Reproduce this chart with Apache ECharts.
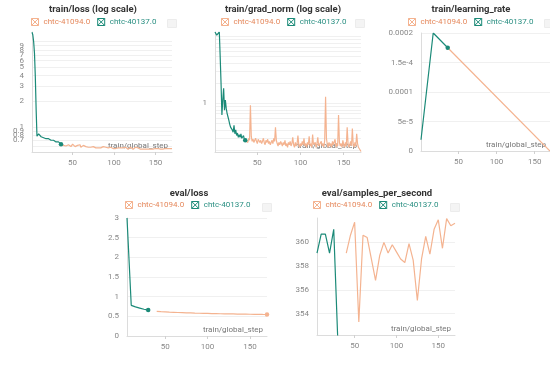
<!DOCTYPE html>
<html>
<head>
<meta charset="utf-8">
<script src="https://cdn.jsdelivr.net/npm/echarts@6/dist/echarts.min.js"></script>
<style>
  html, body { margin: 0; padding: 0; background: #fff; }
  #main { width: 550px; height: 372px; }
</style>
</head>
<body>
<div id="main"></div>
<script>
// runs: orange = resumed run, teal = first run
const runs = ['chtc-41094.0', 'chtc-40137.0'];

// train steps
const greenTrainStart = 1;
const orangeTrainStart = 36;

// train/loss
const lossGreen = [12.9, 12.0, 10.0, 7.3, 3.9, 1.6, 0.78, 0.81, 0.83, 0.79,
  0.80, 0.77, 0.78, 0.76, 0.75, 0.77, 0.74, 0.73, 0.75, 0.72,
  0.73, 0.71, 0.72, 0.70, 0.71, 0.69, 0.70, 0.68, 0.70, 0.67,
  0.68, 0.66, 0.67, 0.65, 0.64, 0.63];
const lossOrange = [
  0.63, 0.62, 0.64, 0.61, 0.63, 0.62, 0.60, 0.63, 0.61, 0.62,
  0.60, 0.62, 0.59, 0.61, 0.63, 0.60, 0.61, 0.59, 0.62, 0.60,
  0.61, 0.59, 0.60, 0.62, 0.58, 0.60, 0.59, 0.61, 0.58, 0.60,
  0.59, 0.57, 0.60, 0.58, 0.59, 0.61, 0.58, 0.59, 0.57, 0.59,
  0.58, 0.60, 0.57, 0.58, 0.59, 0.57, 0.58, 0.60, 0.57, 0.58,
  0.57, 0.59, 0.58, 0.56, 0.58, 0.57, 0.59, 0.57, 0.58, 0.56,
  0.58, 0.57, 0.59, 0.56, 0.57, 0.58, 0.56, 0.57, 0.59, 0.57,
  0.56, 0.58, 0.57, 0.56, 0.58, 0.57, 0.55, 0.57, 0.58, 0.56,
  0.57, 0.55, 0.57, 0.56, 0.58, 0.56, 0.57, 0.55, 0.57, 0.56,
  0.58, 0.56, 0.55, 0.57, 0.56, 0.58, 0.55, 0.57, 0.56, 0.55,
  0.57, 0.56, 0.55, 0.57, 0.58, 0.55, 0.56, 0.57, 0.55, 0.56,
  0.57, 0.55, 0.56, 0.54, 0.56, 0.57, 0.55, 0.56, 0.54, 0.57,
  0.55, 0.56, 0.54, 0.55, 0.57, 0.54, 0.56, 0.55, 0.54, 0.56,
  0.55, 0.54, 0.56, 0.55, 0.56];
const lossTicks = [0.6, 0.7, 0.8, 0.9, 1, 2, 3, 4, 5, 6, 7, 8, 9, 10];

// train/grad_norm
const gradGreen = [11.7, 11.0, 10.5, 11.2, 10.8, 11.7, 5.0, 2.0, 0.67, 1.12,
  1.68, 0.79, 1.12, 0.84, 0.71, 0.63, 0.56, 0.49, 0.44, 0.45,
  0.40, 0.37, 0.47, 0.35, 0.40, 0.33, 0.36, 0.31, 0.34, 0.31,
  0.35, 0.30, 0.31, 0.33, 0.29, 0.28];
const gradOrange = [
  0.28, 0.27, 0.29, 0.26, 0.30, 0.28, 0.94, 0.32, 0.27, 0.29,
  0.26, 0.28, 0.30, 0.27, 0.25, 0.29, 0.31, 0.26, 0.28, 0.25,
  0.27, 0.30, 0.26, 0.24, 0.28, 0.26, 0.29, 0.25, 0.27, 0.24,
  0.26, 0.28, 0.25, 0.30, 0.27, 0.44, 0.28, 0.25, 0.23, 0.26,
  0.24, 0.27, 0.25, 0.23, 0.26, 0.24, 0.28, 0.23, 0.25, 0.22,
  0.26, 0.24, 0.27, 0.23, 0.25, 0.31, 0.24, 0.22, 0.26, 0.23,
  0.25, 0.33, 0.24, 0.22, 0.25, 0.23, 0.27, 0.24, 0.30, 0.23,
  0.25, 0.22, 0.26, 0.24, 0.32, 0.23, 0.25, 0.22, 0.34, 0.24,
  0.23, 0.26, 0.22, 0.25, 0.31, 0.23, 0.24, 0.22, 0.27, 0.23,
  0.25, 0.22, 0.28, 1.26, 0.30, 0.24, 0.22, 0.26, 0.23, 0.25,
  0.22, 0.27, 0.24, 0.23, 0.29, 0.22, 0.25, 0.23, 0.67, 0.26,
  0.23, 0.25, 0.22, 0.28, 0.24, 0.22, 0.26, 0.23, 0.44, 0.25,
  0.22, 0.24, 0.27, 0.23, 0.42, 0.24, 0.22, 0.26, 0.23, 0.35,
  0.25, 0.22, 0.21, 0.20, 0.19];
const gradLabelTicks = [1];
const gradGridTicks = [0.2, 0.3, 0.4, 0.5, 0.6, 0.7, 0.8, 0.9, 1, 2, 3, 4, 5, 6, 7, 8, 9, 10];

// train/learning_rate (read at the corners of the line)
const lrGreenSteps = [1, 17, 36];
const lrGreen = [0.000019, 0.0002, 0.000175];
const lrOrangeSteps = [36, 170];
const lrOrange = [0.000175, 0];
const lrTickValues = [0, 0.00005, 0.0001, 0.00015, 0.0002];
const lrTickLabels = ['0', '5e-5', '0.0001', '1.5e-4', '0.0002'];

// eval, every 5 steps
const evalGreenStart = 5;
const evalOrangeStart = 40;
const evalStride = 5;
const evalLossGreen = [3.0, 0.78, 0.74, 0.71, 0.68, 0.66];
const evalLossOrange = [0.627, 0.620, 0.614, 0.608, 0.603, 0.598, 0.594, 0.590, 0.586,
  0.582, 0.579, 0.576, 0.573, 0.570, 0.568, 0.566, 0.564, 0.562, 0.560, 0.558,
  0.556, 0.555, 0.553, 0.552, 0.550, 0.548, 0.547];
const spsGreen = [359.1, 360.7, 360.7, 359.1, 361.1, 351.5];
const spsOrange = [359.1, 360.6, 361.7, 353.3, 360.6, 360.4, 358.6, 356.8, 358.9,
  360.0, 359.1, 359.8, 359.2, 358.6, 358.3, 359.9, 358.5, 355.1, 358.6, 360.5,
  359.0, 361.1, 361.9, 359.5, 362.0, 361.4, 361.6];
const spsTicks = [354, 356, 358, 360];

const stepTicks = [50, 100, 150];

const ORANGE = '#f4b390';
const ORANGE_TXT = '#e5885c';
const GREEN = '#1b8a78';
const GREEN_TXT = '#2a8f82';
const FONT = 'Roboto';

function seq(start, vals, stride) {
  return vals.map((v, i) => [start + i * (stride || 1), v]);
}
function zip(steps, vals) {
  return steps.map((s, i) => [s, vals[i]]);
}

const chartDom = document.getElementById('main');
const myChart = echarts.init(chartDom, null, { renderer: 'canvas' });

// panel boxes
const grids = [
  { left: 32, top: 32, width: 140, height: 120 },
  { left: 215, top: 32, width: 146, height: 120 },
  { left: 421, top: 33, width: 129, height: 118 },
  { left: 127, top: 218, width: 140, height: 118 },
  { left: 317, top: 218, width: 138, height: 117 }
];
const titles = [
  ['train/loss (log scale)', 93, 5],
  ['train/grad_norm (log scale)', 283, 5],
  ['train/learning_rate', 471, 5],
  ['eval/loss', 189, 189],
  ['eval/samples_per_second', 377, 189]
];
const legendPos = [[31, 18], [221, 18], [408, 18], [125, 201], [313, 201]];
const menuBoxes = [[167, 19], [355, 19], [544, 19], [262, 203], [450, 203]];

const boxX = 'path://M0,0L10,0L10,10L0,10Z M0,0L10,10 M10,0L0,10';

function xAxisFor(gi, min, max) {
  return {
    type: 'value', gridIndex: gi, min: min, max: max,
    name: 'train/global_step', nameLocation: 'end', nameGap: -4,
    nameTextStyle: { color: '#777', fontSize: 8, align: 'right', verticalAlign: 'bottom', padding: [0, 0, 2, 0], fontFamily: FONT },
    axisLine: { show: true, lineStyle: { color: '#dcdcdc', width: 1 } },
    axisTick: { show: true, length: 3, customValues: stepTicks, lineStyle: { color: '#d0d0d0' } },
    axisLabel: { customValues: stepTicks, color: '#888', fontSize: 8, margin: 7, fontFamily: FONT },
    splitLine: { show: false }
  };
}
function yBase(gi) {
  return {
    gridIndex: gi,
    axisLine: { show: true, lineStyle: { color: '#dcdcdc', width: 1 } },
    axisTick: { show: false },
    axisLabel: { color: '#888', fontSize: 8, margin: 8, fontFamily: FONT },
    splitLine: { show: true, lineStyle: { color: '#f0f0f0', width: 1 } }
  };
}
function fmtNum(v) { return String(Math.round(v * 1000) / 1000); }

const yAxes = [];
// train/loss
yAxes.push(Object.assign(yBase(0), {
  type: 'log', logBase: 10, min: 0.51, max: 13,
  axisTick: { show: false, customValues: lossTicks },
  axisLabel: { customValues: lossTicks, color: '#888', fontSize: 8, margin: 8, fontFamily: FONT, formatter: fmtNum }
}));
// train/grad_norm
yAxes.push(Object.assign(yBase(1), {
  type: 'log', logBase: 10, min: 0.187, max: 11.7,
  axisTick: { show: false, customValues: gradGridTicks },
  axisLabel: { customValues: gradLabelTicks, color: '#888', fontSize: 8, margin: 8, fontFamily: FONT, formatter: fmtNum }
}));
// train/learning_rate
yAxes.push(Object.assign(yBase(2), {
  type: 'value', min: 0, max: 0.0002,
  axisTick: { show: false, customValues: lrTickValues },
  axisLabel: {
    customValues: lrTickValues, color: '#888', fontSize: 8, margin: 8, fontFamily: FONT,
    formatter: function (v) {
      const i = lrTickValues.findIndex(t => Math.abs(t - v) < 1e-9);
      return i >= 0 ? lrTickLabels[i] : '';
    }
  }
}));
// eval/loss
yAxes.push(Object.assign(yBase(3), { type: 'value', min: 0, max: 3, interval: 0.5 }));
// eval/samples_per_second
yAxes.push(Object.assign(yBase(4), {
  type: 'value', min: 352.2, max: 362.05,
  axisTick: { show: false, customValues: spsTicks },
  axisLabel: { customValues: spsTicks, color: '#888', fontSize: 8, margin: 8, fontFamily: FONT }
}));

const xAxes = [
  xAxisFor(0, 1, 170), xAxisFor(1, 1, 170), xAxisFor(2, 1, 170),
  xAxisFor(3, 5, 170), xAxisFor(4, 5, 170)
];

function line(name, color, data, gi, dotLast, z) {
  const last = data.length - 1;
  return {
    name: name, type: 'line', xAxisIndex: gi, yAxisIndex: gi,
    data: data, silent: true, z: z || 2,
    symbol: 'circle', showSymbol: true, showAllSymbol: true,
    symbolSize: function (val, p) { return (dotLast && p.dataIndex === last) ? 4.5 : 0; },
    itemStyle: { color: color },
    lineStyle: { color: color, width: 1.2 },
    emphasis: { disabled: true }
  };
}

const series = [
  line(runs[0], ORANGE, seq(orangeTrainStart, lossOrange), 0, false, 2),
  line(runs[1], GREEN, seq(greenTrainStart, lossGreen), 0, true, 3),
  line(runs[0], ORANGE, seq(orangeTrainStart, gradOrange), 1, false, 2),
  line(runs[1], GREEN, seq(greenTrainStart, gradGreen), 1, true, 3),
  line(runs[0], ORANGE, zip(lrOrangeSteps, lrOrange), 2, false, 2),
  line(runs[1], GREEN, zip(lrGreenSteps, lrGreen), 2, true, 3),
  line(runs[0], ORANGE, seq(evalOrangeStart, evalLossOrange, evalStride), 3, true, 2),
  line(runs[1], GREEN, seq(evalGreenStart, evalLossGreen, evalStride), 3, true, 3),
  line(runs[0], ORANGE, seq(evalOrangeStart, spsOrange, evalStride), 4, false, 2),
  line(runs[1], GREEN, seq(evalGreenStart, spsGreen, evalStride), 4, true, 3)
];

const option = {
  backgroundColor: '#fff',
  animation: false,
  textStyle: { fontFamily: FONT },
  title: titles.map(t => ({
    text: t[0], left: t[1], top: t[2], textAlign: 'center', padding: 0,
    textStyle: { fontSize: 9.5, fontWeight: 'bold', color: '#333', fontFamily: FONT }
  })),
  legend: legendPos.map(p => ({
    left: p[0], top: p[1], padding: 0, itemGap: 7, itemWidth: 7, itemHeight: 7,
    icon: boxX, selectedMode: false,
    textStyle: { fontSize: 8, fontFamily: FONT },
    data: [
      { name: runs[0], textStyle: { color: ORANGE_TXT }, itemStyle: { color: 'rgba(0,0,0,0)', borderColor: ORANGE, borderWidth: 1 } },
      { name: runs[1], textStyle: { color: GREEN_TXT }, itemStyle: { color: 'rgba(0,0,0,0)', borderColor: GREEN, borderWidth: 1 } }
    ]
  })),
  graphic: menuBoxes.map(b => ({
    type: 'rect', left: b[0], top: b[1], silent: true,
    shape: { width: 9, height: 8 },
    style: { fill: '#f4f4f4', stroke: '#ececec', lineWidth: 1 }
  })),
  grid: grids,
  xAxis: xAxes,
  yAxis: yAxes,
  series: series
};
option && myChart.setOption(option);
</script>
</body>
</html>
